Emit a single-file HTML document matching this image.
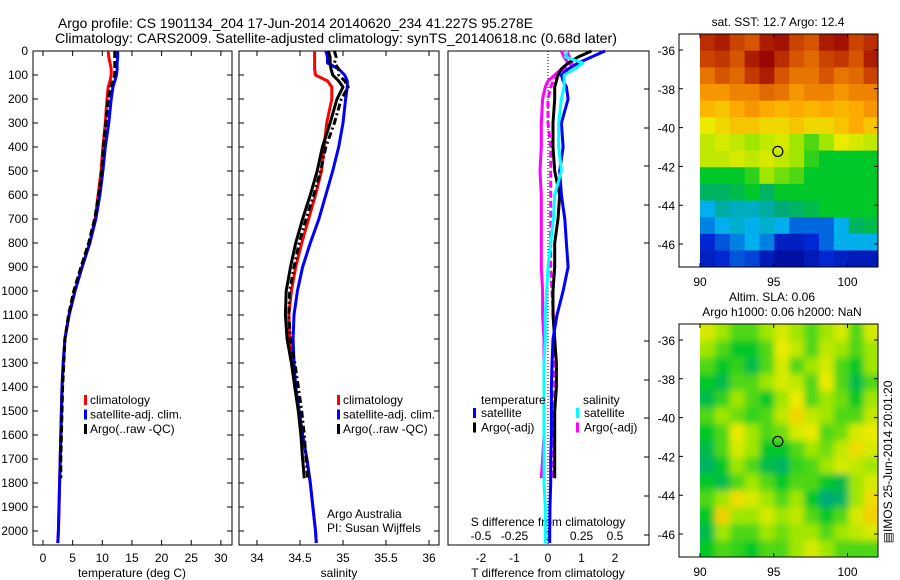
<!DOCTYPE html>
<html><head><meta charset="utf-8"><style>
html,body{margin:0;padding:0;background:#fff;}
svg{display:block;font-family:"Liberation Sans",sans-serif;}
</style></head><body>
<svg id="chart" width="900" height="580" viewBox="0 0 900 580" xmlns="http://www.w3.org/2000/svg">
<defs>
<clipPath id="clipSST"><rect x="700" y="34" width="178" height="233"/></clipPath>
<clipPath id="clipSLA"><rect x="700" y="324" width="178" height="233"/></clipPath>
<filter id="blur" x="-5%" y="-5%" width="110%" height="110%"><feGaussianBlur stdDeviation="3.5"/></filter>
</defs>
<text x="58" y="28" font-size="14" textLength="475" lengthAdjust="spacingAndGlyphs">Argo profile: CS 1901134_204 17-Jun-2014 20140620_234 41.227S 95.278E</text>
<text x="55" y="43" font-size="14" textLength="562" lengthAdjust="spacingAndGlyphs">Climatology: CARS2009. Satellite-adjusted climatology: synTS_20140618.nc (0.68d later)</text>
<g id="g"></g>
</svg>
<script>
// ---------- data ----------
const depths = [0,25,50,75,100,125,150,200,300,400,500,600,700,800,900,1000,1100,1200,1300,1400,1500,1600,1700,1800,1900,2000,2050];
const tempClim = [11.0,11.1,11.3,11.5,11.5,11.3,11.0,10.8,10.5,10.1,9.8,9.3,8.8,7.9,6.6,5.4,4.4,3.7,3.4,3.2,3.1,3.0,2.9,2.8,2.7,2.6,2.5];
const tempSat  = [12.6,12.6,12.5,12.5,12.4,12.1,11.8,11.5,11.1,10.5,10.1,9.6,8.9,7.9,6.6,5.4,4.4,3.7,3.4,3.2,3.1,3.0,2.9,2.8,2.7,2.6,2.5];
const argoDepths = [0,25,50,75,100,125,150,200,300,400,500,600,700,800,900,1000,1100,1200,1300,1400,1500,1600,1700,1780];
const tempArgo = [12.1,12.1,12.1,12.1,12.1,11.8,11.4,11.0,10.6,10.2,9.9,9.4,8.7,7.7,6.4,5.2,4.3,3.7,3.5,3.3,3.2,3.1,3.0,3.0];
const salClim = [34.67,34.67,34.67,34.67,34.68,34.82,34.87,34.87,34.81,34.78,34.75,34.68,34.6,34.52,34.45,34.4,34.37,34.38,34.41,34.44,34.49,34.53,34.58,34.62,34.65,34.68,34.69];
const salSat  = [34.8,34.82,34.82,34.95,35.02,35.05,35.05,35.03,35.0,34.95,34.88,34.8,34.72,34.62,34.53,34.47,34.43,34.42,34.43,34.45,34.49,34.53,34.58,34.62,34.65,34.68,34.69];
const salArgo = [34.83,34.85,34.85,34.86,34.88,34.95,35.0,34.93,34.85,34.76,34.7,34.62,34.53,34.45,34.39,34.34,34.33,34.35,34.4,34.44,34.48,34.51,34.53,34.55];
const salArgoQC = [34.9,34.92,34.9,34.95,34.95,35.02,35.06,34.98,34.9,34.8,34.74,34.66,34.57,34.49,34.43,34.38,34.37,34.39,34.44,34.48,34.52,34.55,34.57,34.59];
const dTSat  = [1.7,1.3,0.9,0.6,0.4,0.45,0.55,0.6,0.4,0.45,0.35,0.4,0.5,0.55,0.6,0.45,0.27,0.15,0.12,0.1,0.1,0.1,0.08,0.08,0.06,0.05,0.05];
const dTArgo = [1.3,0.9,0.6,0.4,0.3,0.25,0.2,0.2,0.15,0.15,0.2,0.35,0.3,0.2,0.2,0.15,0.15,0.2,0.25,0.25,0.2,0.2,0.2,0.2];
const dSSat  = [0.14,0.13,0.26,0.2,0.12,0.12,0.12,0.1,0.08,0.08,0.1,0.05,0.04,0.02,0.0,-0.01,-0.02,-0.02,-0.03,-0.03,-0.03,-0.03,-0.03,-0.03,-0.02,-0.02,-0.02];
const dSArgo = [0.1,0.12,0.15,0.1,0.05,0.0,-0.02,-0.04,-0.05,-0.05,-0.06,-0.05,-0.05,-0.05,-0.05,-0.04,-0.04,-0.03,-0.03,-0.03,-0.03,-0.03,-0.04,-0.05];
const dSArgoQC = [0.14,0.16,0.18,0.12,0.08,0.04,0.02,0.0,0.0,0.02,0.02,0.02,0.02,0.02,0.02,0.03,0.04,0.05,0.05,0.05,0.04,0.04,0.03,0.03];
const depthTicks = [0,100,200,300,400,500,600,700,800,900,1000,1100,1200,1300,1400,1500,1600,1700,1800,1900,2000];
const tempTicks = [0,5,10,15,20,25,30];
const salTicks = [34,34.5,35,35.5,36];
const dTTicks = [-2,-1,0,1,2];
const dSTicks = [-0.5,-0.25,0,0.25,0.5];
const latTicks = [-36,-38,-40,-42,-44,-46];
const lonTicks = [90,95,100];
const sstGrid = [
[.92,.95,.88,.85,.95,.97,.88,.85,.95,.97,.88,.92],
[.88,.9,.85,.95,.99,.92,.85,.82,.88,.9,.85,.95],
[.8,.85,.82,.9,.95,.85,.8,.8,.85,.8,.82,.88],
[.75,.75,.78,.78,.82,.8,.75,.78,.78,.75,.78,.78],
[.7,.68,.72,.75,.72,.7,.72,.7,.72,.7,.72,.75],
[.62,.65,.68,.68,.65,.65,.68,.65,.65,.68,.72,.68],
[.58,.6,.58,.55,.58,.6,.55,.5,.55,.62,.6,.58],
[.58,.58,.6,.58,.6,.58,.55,.48,.45,.45,.45,.45],
[.45,.45,.45,.48,.55,.52,.5,.45,.45,.45,.45,.45],
[.4,.4,.42,.45,.4,.45,.45,.45,.45,.45,.45,.45],
[.3,.35,.33,.33,.35,.38,.4,.42,.45,.45,.45,.45],
[.25,.3,.32,.3,.32,.3,.22,.22,.22,.3,.4,.42],
[.15,.2,.25,.3,.25,.12,.12,.15,.22,.3,.3,.3],
[.12,.15,.2,.18,.1,.06,.06,.1,.15,.12,.1,.1]];
const slaGrid = [
[.6,.55,.5,.5,.55,.6,.55,.5,.55,.6,.5,.6],
[.55,.5,.45,.45,.5,.62,.58,.5,.58,.55,.5,.55],
[.5,.45,.48,.42,.5,.6,.5,.55,.6,.5,.45,.55],
[.45,.42,.5,.5,.55,.6,.58,.5,.62,.5,.42,.5],
[.42,.48,.55,.5,.45,.55,.62,.5,.55,.52,.45,.55],
[.5,.55,.52,.48,.5,.58,.65,.58,.55,.5,.5,.58],
[.45,.5,.62,.55,.5,.52,.6,.62,.5,.52,.6,.62],
[.42,.5,.6,.55,.45,.45,.5,.55,.52,.58,.64,.6],
[.4,.45,.55,.5,.42,.4,.48,.5,.55,.6,.58,.55],
[.45,.42,.5,.55,.5,.45,.5,.5,.45,.42,.55,.6],
[.5,.55,.64,.6,.55,.5,.55,.45,.38,.4,.55,.64],
[.45,.66,.55,.55,.6,.55,.58,.5,.45,.5,.6,.66],
[.42,.55,.5,.5,.55,.52,.55,.55,.5,.55,.58,.6],
[.45,.5,.48,.45,.5,.5,.55,.6,.55,.5,.5,.5]];
const floatLon = 95.278, floatLat = -41.227;

// ---------- helpers ----------
const NS="http://www.w3.org/2000/svg";
const G=document.getElementById('g');
function mk(tag,attrs,parent){const e=document.createElementNS(NS,tag);for(const k in attrs)e.setAttribute(k,attrs[k]);(parent||G).appendChild(e);return e;}
function txt(x,y,s,anchor,size,name){const t=mk('text',{x:x,y:y,'font-size':size||12,'text-anchor':anchor||'start'});t.textContent=s;


return t;}
const TOP=51, BOT=545;
const yD = d => TOP + d*0.24;
const xT = v => 43 + v*5.93;
const xS = v => 257 + (v-34)*86;
const xDT = v => 548 + v*33.5;
const xDS = v => 548 + v*134;
function line(xs, ds, fx, color, w, dash, name){
  let p=''; for(let i=0;i<xs.length;i++){p+=(i?'L':'M')+fx(xs[i]).toFixed(1)+','+yD(ds[i]).toFixed(1);}
  const a={d:p,fill:'none',stroke:color,'stroke-width':w||3,'stroke-linejoin':'round'}; if(dash)a['stroke-dasharray']=dash;
  const e=mk('path',a);
  
  
}
function frame(x0,x1,name){const r=mk('rect',{x:x0,y:TOP,width:x1-x0,height:BOT-TOP,fill:'none',stroke:'#000','stroke-width':1});

}

// ---------- panel 1 temperature ----------
frame(33,232,'temperature-panel');
depthTicks.forEach(d=>{const y=yD(d);mk('path',{d:`M33,${y}h5M232,${y}h-5`,stroke:'#000'});txt(28,y+4,String(d),'end',12,'depth-tick-label');});
tempTicks.forEach(v=>{const x=xT(v);mk('path',{d:`M${x},${TOP}v5M${x},${BOT}v-5`,stroke:'#000'});txt(x,562,String(v),'middle',12,'temperature-tick-label');});
txt(132,577,'temperature (deg C)','middle',12,'x-axis-title-temperature');
line(tempClim,depths,xT,'#ff0000',3,null,'temp-climatology-line');
line(tempSat,depths,xT,'#0000ff',3,null,'temp-satellite-line');
line(tempArgo,argoDepths,xT,'#000',3,'7,3','temp-argo-line');

// ---------- panel 2 salinity ----------
frame(239,439,'salinity-panel');
depthTicks.forEach(d=>{const y=yD(d);mk('path',{d:`M239,${y}h5M439,${y}h-5`,stroke:'#000'});});
salTicks.forEach(v=>{const x=xS(v);mk('path',{d:`M${x},${TOP}v5M${x},${BOT}v-5`,stroke:'#000'});txt(x,562,String(v),'middle',12,'salinity-tick-label');});
txt(339,577,'salinity','middle',12,'x-axis-title-salinity');
line(salClim,depths,xS,'#ff0000',3,null,'sal-climatology-line');
line(salSat,depths,xS,'#0000ff',3,null,'sal-satellite-line');
line(salArgo,argoDepths,xS,'#000',3,null,'sal-argo-raw-line');
line(salArgoQC,argoDepths,xS,'#000',3,'7,3,2,3','sal-argo-qc-line');
txt(327,518,'Argo Australia','start',12,'credit-argo-australia');
txt(327,532,'PI: Susan Wijffels','start',12,'credit-pi');

// legends panels 1/2
function legend(x,items,prefix){items.forEach((it,i)=>{const y=400+i*14.5;const r=mk('rect',{x:x,y:y-5,width:3,height:10,fill:it[0]});


txt(x+6,y+4,it[1],'start',12,prefix+'-label');});}
legend(84,[['#ff0000','climatology'],['#0000ff','satellite-adj. clim.'],['#000','Argo(..raw -QC)']],'temp-legend-entry');
legend(337,[['#ff0000','climatology'],['#0000ff','satellite-adj. clim.'],['#000','Argo(..raw -QC)']],'sal-legend-entry');

// ---------- panel 3 differences ----------
frame(448,649,'difference-panel');
[51,89,128,166,205,243,341,380,418,457,496,535].forEach(y=>mk('path',{d:`M649,${y}h-5`,stroke:'#000'}));
mk('path',{d:`M${xDT(0)},${TOP}V${BOT}`,stroke:'#000','stroke-width':1,'stroke-dasharray':'1,2'});
dTTicks.forEach(v=>{const x=xDT(v);txt(x,562,String(v),'middle',12,'t-diff-tick-label');});
dSTicks.forEach(v=>{const x=xDS(v);txt(x,540,String(v),'middle',12,'s-diff-tick-label');});
txt(548,526,'S difference from climatology','middle',12,'s-diff-axis-title');
txt(548,577,'T difference from climatology','middle',12,'t-diff-axis-title');
line(dSArgo,argoDepths,xDS,'#ff00ff',3,null,'s-diff-argo-line');
line(dSArgoQC,argoDepths,xDS,'#ff00ff',3,'7,3','s-diff-argo-qc-line');
line(dTArgo,argoDepths,xDT,'#000',3,null,'t-diff-argo-line');
line(dTSat,depths,xDT,'#0000ff',3,null,'t-diff-satellite-line');
line(dSSat,depths,xDS,'#00ffff',3,null,'s-diff-satellite-line');
txt(481,404,'temperature','start',12,'legend-heading-temperature');
txt(583,404,'salinity','start',12,'legend-heading-salinity');
[[473,'#0000ff','satellite',0],[473,'#000','Argo(-adj)',1],[576,'#00ffff','satellite',0],[576,'#ff00ff','Argo(-adj)',1]].forEach(it=>{
  const y=413+it[3]*14.5; const r=mk('rect',{x:it[0],y:y-5,width:3,height:10,fill:it[1]});
  
  
  txt(it[0]+8,y+4,it[2],'start',12,'diff-legend-label');});

// ---------- maps ----------
const cmapStops=[[0,[0,0,130]],[0.15,[0,40,210]],[0.3,[0,175,235]],[0.38,[0,170,120]],[0.45,[0,200,40]],[0.55,[160,230,0]],[0.62,[235,235,0]],[0.72,[255,170,0]],[0.85,[215,85,0]],[1,[150,0,0]]];
function cmap(v){for(let i=1;i<cmapStops.length;i++){if(v<=cmapStops[i][0]){const a=cmapStops[i-1],b=cmapStops[i];const t=(v-a[0])/(b[0]-a[0]);return 'rgb('+a[1].map((c,j)=>Math.round(c+(b[1][j]-c)*t)).join(',')+')';}}return 'rgb(150,0,0)';}
function map(grid,top,clip,blur,name){
  const lat36 = top+16, k=19.4;
  const yL = lat => lat36 + (-36-lat)*k;
  const xL = lon => 700 + (lon-90)*14.75;
  const g=mk('g',{'clip-path':`url(#${clip})`});
  
  
  const inner=blur?mk('g',{filter:'url(#blur)'},g):g;
  const rows=grid.length, cols=grid[0].length;
  const lat0=-35.18, lat1=-47.19, lon0=90, lon1=102.1;
  for(let r=0;r<rows;r++)for(let c=0;c<cols;c++){
    const x0=xL(lon0+(lon1-lon0)*c/cols), x1=xL(lon0+(lon1-lon0)*(c+1)/cols);
    const y0=yL(lat0+(lat1-lat0)*r/rows), y1=yL(lat0+(lat1-lat0)*(r+1)/rows);
    const e=mk('rect',{x:x0-(blur?6*(c==0):0),y:y0-(blur?6*(r==0):0),width:x1-x0+0.6+(blur?6:0),height:y1-y0+0.6+(blur?6:0),fill:cmap(grid[r][c])},inner);
    
    
  }
  const f=mk('rect',{x:679,y:top,width:199,height:233,fill:'none',stroke:'#000'});
  
  
  latTicks.forEach(l=>{const y=yL(l);mk('path',{d:`M679,${y}h4M878,${y}h-4`,stroke:'#000'});txt(675,y+5,String(l),'end',12,'lat-tick-label');});
  lonTicks.forEach(l=>{const x=xL(l);mk('path',{d:`M${x},${top}v4M${x},${top+233}v-4`,stroke:'#000'});txt(x,top+252,String(l),'middle',12,'lon-tick-label');});
  const ci=mk('circle',{cx:xL(floatLon),cy:yL(floatLat),r:5,fill:'none',stroke:'#000','stroke-width':1.2});
  
  
}
map(sstGrid,34,'clipSST',false,'sst-map');
map(slaGrid,324,'clipSLA',true,'sla-map');
txt(778,26,'sat. SST: 12.7 Argo: 12.4','middle',12,'sst-map-title');
txt(772,301,'Altim. SLA: 0.06','middle',12,'sla-map-title-1');
txt(782,316,'Argo h1000: 0.06 h2000: NaN','middle',12,'sla-map-title-2');
const rt=txt(0,0,'\u25A4IMOS 25-Jun-2014 20:01:20','middle',12,'imos-timestamp');
rt.setAttribute('transform','translate(892,462) rotate(-90)');
</script>
</body></html>
